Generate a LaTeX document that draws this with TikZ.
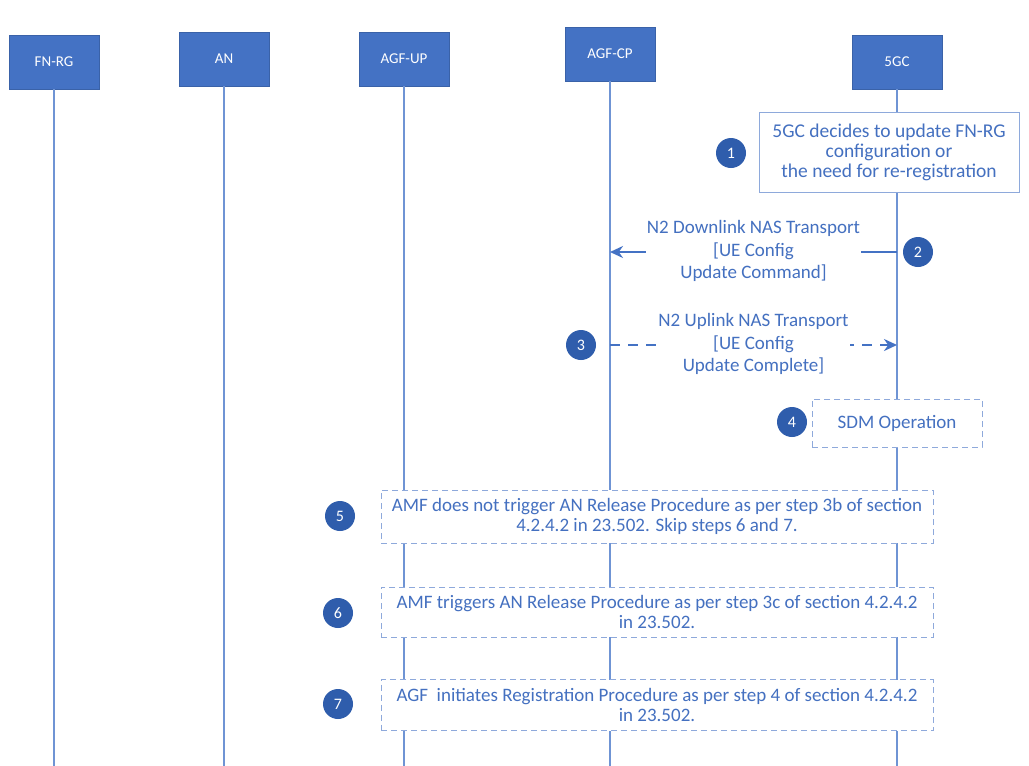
\documentclass[tikz,border=0pt]{standalone}
\usepackage{fontspec}
\setmainfont{Carlito}
\usetikzlibrary{arrows.meta}
\definecolor{hdrblue}{HTML}{4472C4}
\definecolor{hdredge}{HTML}{3A62A8}
\definecolor{lifeblue}{HTML}{6F94D4}
\definecolor{txtblue}{HTML}{4470C0}
\definecolor{numblue}{HTML}{2F5DAC}
\definecolor{boxedge}{HTML}{8EA9DB}
\begin{document}
\begin{tikzpicture}[x=1pt,y=-1pt,
  hdr/.style={rectangle,fill=hdrblue,draw=hdredge,line width=0.6pt,minimum width=90pt,minimum height=54pt,text=white,font=\fontsize{15}{17}\selectfont},
  life/.style={draw=lifeblue,line width=1.2pt},
  num/.style={circle,fill=numblue,minimum size=30pt,inner sep=0pt,text=white,font=\fontsize{16}{18}\selectfont},
  note/.style={rectangle,draw=boxedge,line width=1pt,fill=white,text=txtblue,align=center,font=\fontsize{19}{20}\selectfont,inner sep=0pt},
  dnote/.style={note,dash pattern=on 6pt off 4pt},
  msg/.style={fill=white,text=txtblue,align=center,font=\fontsize{19}{22.5}\selectfont,inner sep=1pt},
  arr/.style={draw=hdrblue,line width=2.4pt,-{Stealth[length=13pt,width=12pt]}}
]
\useasboundingbox (0,0) rectangle (1029,766);
\fill[white] (0,0) rectangle (1029,766);

% headers
\node[hdr] (fnrg) at (54,62) {FN-RG};
\node[hdr] (an) at (224,59) {AN};
\node[hdr] (agfup) at (404,59) {AGF-UP};
\node[hdr] (agfcp) at (610,54) {AGF-CP};
\node[hdr] (fivegc) at (897,62) {5GC};

% bottom coordinates
\coordinate (bfnrg) at (54,766);
\coordinate (ban) at (224,766);
\coordinate (bagfup) at (404,766);
\coordinate (bagfcp) at (610,766);
\coordinate (bfivegc) at (897,766);

% lifelines
\draw[life] (fnrg.south) -- (bfnrg);
\draw[life] (an.south) -- (ban);
\draw[life] (agfup.south) -- (bagfup);
\draw[life] (agfcp.south) -- (bagfcp);
\draw[life] (fivegc.south) -- (bfivegc);

% step 1
\node[note,minimum width=260pt,minimum height=80pt,font=\fontsize{19.5}{20}\selectfont] (n1) at (889,152)
  {5GC decides to update FN-RG\\configuration or\\the need for re-registration};
\node[num] (c1) at (731,153) {1};

% step 2
\coordinate (s2a) at (fivegc |- 0,252);
\coordinate (s2b) at (agfcp |- 0,252);
\draw[arr] (s2a) -- node[msg,yshift=1pt] (m2) {N2 Downlink NAS Transport\\{}[UE Config\\Update Command]} (s2b);
\node[num] (c2) at (918,252) {2};

% step 3
\coordinate (s3a) at (agfcp |- 0,345);
\coordinate (s3b) at (fivegc |- 0,345);
\draw[arr,dash pattern=on 10pt off 8pt] (s3a) -- node[msg,yshift=1pt] (m3) {N2 Uplink NAS Transport\\{}[UE Config\\Update Complete]} (s3b);
\node[num] (c3) at (581,345) {3};

% step 4
\node[dnote,minimum width=170pt,minimum height=48pt] (n4) at (897,423) {SDM Operation};
\node[num] (c4) at (792,422) {4};

% step 5
\node[dnote,minimum width=552pt,minimum height=53pt] (n5) at (657,516.5)
  {AMF does not trigger AN Release Procedure as per step 3b of section\\4.2.4.2 in 23.502. Skip steps 6 and 7.};
\node[num] (c5) at (340,516) {5};

% step 6
\node[dnote,minimum width=552pt,minimum height=50pt] (n6) at (657,612)
  {AMF triggers AN Release Procedure as per step 3c of section 4.2.4.2\\in 23.502.};
\node[num] (c6) at (338,613) {6};

% step 7
\node[dnote,minimum width=552pt,minimum height=51pt] (n7) at (657,705)
  {AGF\ \ initiates Registration Procedure as per step 4 of section 4.2.4.2\\in 23.502.};
\node[num] (c7) at (338,704) {7};
\end{tikzpicture}
\end{document}
